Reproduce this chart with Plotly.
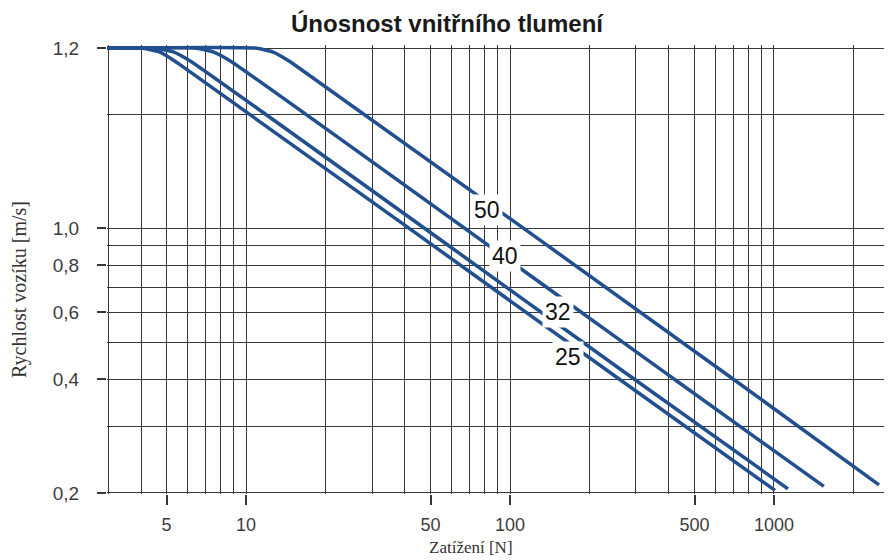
import math
import plotly.graph_objects as go

# ---- data ----
series_names = ["25", "32", "40", "50"]
load_25 = [2.8, 4.0, 4.7, 5.5, 259, 1009]
speed_25 = [3.0, 3.0, 2.93, 2.74, 0.40, 0.203]
load_32 = [2.8, 4.5, 5.3, 6.2, 295, 1130]
speed_32 = [3.0, 3.0, 2.93, 2.76, 0.40, 0.205]
load_40 = [2.8, 6.4, 7.5, 8.8, 418, 1545]
speed_40 = [3.0, 3.0, 2.93, 2.76, 0.40, 0.208]
load_50 = [2.8, 10.8, 12.6, 14.8, 700, 2500]
speed_50 = [3.0, 3.0, 2.93, 2.75, 0.40, 0.210]

x_tick_vals = [5, 10, 50, 100, 500, 1000]
x_tick_text = ["5", "10", "50", "100", "500", "1000"]
x_minor_vals = [3, 4, 6, 7, 8, 9, 20, 30, 40, 60, 70, 80, 90,
                200, 300, 400, 600, 700, 800, 900, 2000]
y_tick_vals = [0.2, 0.4, 0.6, 0.8, 1.0, 3.0]
y_tick_text = ["0,2", "0,4", "0,6", "0,8", "1,0", "1,2"]
y_minor_vals = [0.3, 0.5, 0.7, 0.9, 2.0]

# label anchor points (data coordinates)
label_load = [166, 152, 95.7, 81.8]
label_speed = [0.457, 0.600, 0.844, 1.122]

LINE = "#22508f"
GRID = "#383838"
TXT = "#3d3d3d"

# page body has an 8px default margin -> figure is 8px smaller, offsets reduced by 8
W, H = 884, 552

fig = go.Figure()
for xs, ys, nm in [(load_25, speed_25, "25"), (load_32, speed_32, "32"),
                   (load_40, speed_40, "40"), (load_50, speed_50, "50")]:
    fig.add_trace(go.Scatter(x=xs, y=ys, mode="lines", name=nm,
                             line=dict(color=LINE, width=3.5, shape="spline", smoothing=0.4),
                             showlegend=False, hoverinfo="skip"))

for nm, lx, ly in zip(series_names, label_load, label_speed):
    fig.add_annotation(x=math.log10(lx), y=math.log10(ly), xref="x", yref="y",
                       text=nm, showarrow=False, bgcolor="white", borderpad=2,
                       font=dict(family="Arial, Liberation Sans", size=23, color="#111"))

fig.add_annotation(x=(471 - 107) / 785, y=0, xref="paper", yref="paper", yshift=-53,
                   text="Zatížení [N]", showarrow=False, yanchor="middle",
                   font=dict(family="Liberation Serif, Times New Roman", size=17, color="#333"))
fig.add_annotation(x=0, y=(494 - 290) / 449, xref="paper", yref="paper", xshift=-88,
                   text="Rychlost vozíku [m/s]", showarrow=False, textangle=-90,
                   xanchor="center", yanchor="middle",
                   font=dict(family="Liberation Serif, Times New Roman", size=20, color="#333"))

fig.update_layout(
    width=W, height=H,
    margin=dict(l=99, r=0, t=37, b=66, autoexpand=False),
    paper_bgcolor="white", plot_bgcolor="white",
    title=dict(text="<b>Únosnost vnitřního tlumení</b>", x=(447 - 8) / W, xanchor="center",
               y=1 - 16 / H, yanchor="middle", yref="container", xref="container",
               font=dict(family="Arial, Liberation Sans", size=24, color="#1a1a1a")),
)
fig.update_xaxes(
    type="log", range=[math.log10(3) - 0.004, math.log10(2800)], automargin=False,
    tickmode="array", tickvals=x_tick_vals, ticktext=x_tick_text,
    ticks="outside", ticklen=10, tickwidth=1.5, tickcolor=GRID,
    showgrid=True, gridcolor=GRID, gridwidth=1.4,
    minor=dict(tickmode="array", tickvals=x_minor_vals, showgrid=True,
               gridcolor=GRID, gridwidth=1.4, ticks=""),
    showline=False, zeroline=False, ticklabelstandoff=4,
    tickfont=dict(family="Arial, Liberation Sans", size=18, color=TXT),
)
fig.update_yaxes(
    type="log", range=[math.log10(0.2) - 0.003, math.log10(3) + 0.008], automargin=False,
    tickmode="array", tickvals=y_tick_vals, ticktext=y_tick_text,
    ticks="outside", ticklen=9, tickwidth=1.5, tickcolor=GRID,
    showgrid=True, gridcolor=GRID, gridwidth=1.4,
    minor=dict(tickmode="array", tickvals=y_minor_vals, showgrid=True,
               gridcolor=GRID, gridwidth=1.4, ticks=""),
    showline=False, zeroline=False, ticklabelstandoff=14,
    tickfont=dict(family="Arial, Liberation Sans", size=19, color=TXT),
)

fig.write_html("out.html")
